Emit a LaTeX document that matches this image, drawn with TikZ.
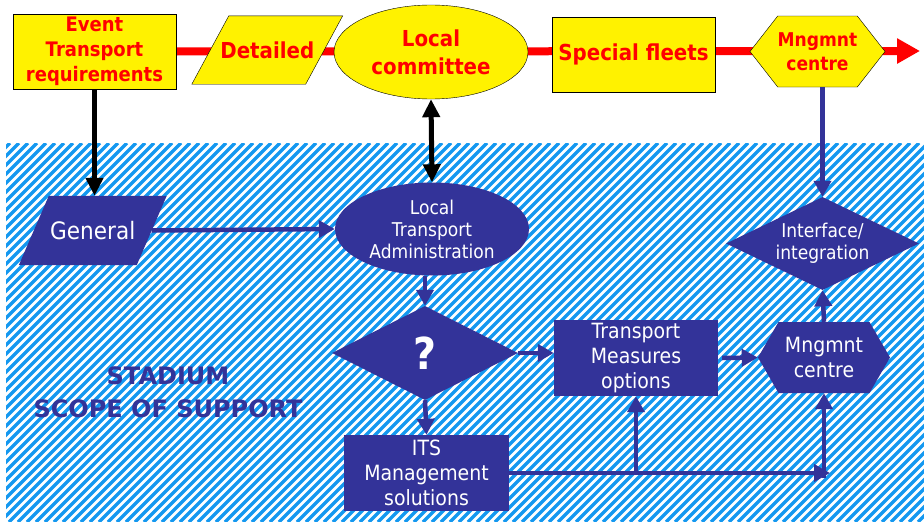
\documentclass[tikz,border=0pt]{standalone}
\usepackage{fontspec}
\setmainfont{DejaVu Sans}[FakeStretch=0.9]
\newfontfamily\heavyfont{DejaVu Sans}
\usepackage{tikz}
\usetikzlibrary{arrows.meta,shapes.geometric,shapes.symbols,positioning,backgrounds}
\definecolor{navy}{RGB}{51,51,153}
\definecolor{stripeblue}{RGB}{20,152,240}
\tikzset{
    topbox/.style={draw=black, fill=yellow, text=red, align=center, inner sep=0pt, font=\bfseries\fontsize{20}{25}\selectfont},
    topslant/.style={topbox, draw=none, fill=none},
    topoval/.style={topbox, ellipse},
    tophex/.style={topbox, signal, signal to=east and west},
    navybox/.style={fill=navy, text=white, align=center, inner sep=0pt, font=\fontsize{21}{25}\selectfont},
    navyslant/.style={navybox, fill=none},
    navyoval/.style={navybox, ellipse},
    navydiamond/.style={navybox, diamond, aspect=2},
    navyhex/.style={navybox, signal, signal to=east and west},
    redline/.style={-{Triangle[length=23pt, width=24pt]}, line width=8pt, red},
    blackarrow/.style={-{Triangle[length=18pt, width=17pt]}, line width=5pt, black},
    blackboth/.style={{Triangle[length=18pt, width=17pt]}-{Triangle[length=18pt, width=17pt]}, line width=5pt, black},
    bluearrow/.style={-{Triangle[length=16pt, width=17pt]}, line width=4.5pt, navy},
    stripe/.style={stripeblue, line width=3.3pt}
}
\begin{document}
\begin{tikzpicture}[x=1pt, y=-1pt]
    \useasboundingbox (0,0) rectangle (924,522);

    % top row
    \node[topbox, minimum width=163pt, minimum height=75pt] (ev) at (94.5,51.5) {Event\\Transport\\requirements};
    \node[topslant, minimum width=113.5pt, minimum height=68pt, font=\bfseries\fontsize{22}{26}\selectfont] (det) at (267.25,50) {Detailed};
    \node[topoval, minimum width=194pt, minimum height=94pt, font=\bfseries\fontsize{22}{28}\selectfont] (lc) at (431,52) {Local\\committee};
    \node[topbox, minimum width=163pt, minimum height=75pt, font=\bfseries\fontsize{22}{26}\selectfont] (sf) at (633.5,54.5) {Special fleets};
    \node[tophex, signal pointer angle=104, minimum width=131pt, minimum height=71pt, font=\bfseries\fontsize{19}{24}\selectfont] (mc1) at (817.5,51.5) {Mngmnt\\centre};
    \coordinate (redtip) at (920,51);

    % scope of support
    \node[navyslant, minimum width=117.5pt, minimum height=69pt, font=\fontsize{24}{28}\selectfont] (gen) at (92.75,230.5) {General};
    \node[navyoval, minimum width=194pt, minimum height=93pt, font=\fontsize{19}{22}\selectfont] (lta) at (432,229) {Local\\Transport\\Administration};
    \node[navydiamond, minimum width=186pt, minimum height=94pt, font=\bfseries\fontsize{44}{44}\selectfont] (q) at (425,353) {?};
    \node[navybox, minimum width=165pt, minimum height=76pt] (its) at (426.5,473) {ITS\\Management\\solutions};
    \node[navybox, minimum width=164pt, minimum height=76pt] (tm) at (636,358) {Transport\\Measures\\options};
    \node[navyhex, signal pointer angle=120, minimum width=132pt, minimum height=71pt] (mc2) at (824,357.5) {Mngmnt\\centre};
    \node[navydiamond, minimum width=193pt, minimum height=93pt, font=\fontsize{19}{22}\selectfont] (iface) at (822.5,243.5) {Interface/\\integration};
    \node[text=navy, align=center, font=\heavyfont\bfseries\fontsize{24}{33}\selectfont] (scope) at (168,392) {STADIUM\\SCOPE OF SUPPORT};

    \coordinate (b1) at (tm.south |- its.east);
    \coordinate (b2) at (mc2.south |- its.east);
    \coordinate (corner) at ([xshift=6pt]b2);

    \begin{scope}[on background layer]
        \begin{scope}
            \clip (6,143) rectangle (924,522);
            \foreach \k in {-44,...,104}
                \draw[stripe] (\k*9,522) -- ++(379,-379);
        \end{scope}
        \draw[redline] (ev.east) -- (redtip);
        % slanted boxes
        \filldraw[fill=yellow, draw=black] ([xshift=-18.5pt]det.south west) -- ([xshift=18.5pt]det.north west)
            -- ([xshift=18.5pt]det.north east) -- ([xshift=-18.5pt]det.south east) -- cycle;
        \fill[navy] ([xshift=-15pt]gen.south west) -- ([xshift=15pt]gen.north west)
            -- ([xshift=15pt]gen.north east) -- ([xshift=-15pt]gen.south east) -- cycle;
    \end{scope}

    \draw[blackarrow] (ev.south) -- (ev.south |- gen.north);
    \draw[blackboth] (lc.south) -- (lta.north);
    \draw[bluearrow] (iface.north |- mc1.south) -- (iface.north);
    \draw[bluearrow] (gen.east) -- (lta.west);
    \draw[bluearrow] (q.north |- lta.south) -- (q.north);
    \draw[bluearrow] (q.south) -- (its.north);
    \draw[bluearrow] (q.east) -- (q.east -| tm.west);
    \draw[bluearrow] ([xshift=4pt]tm.east) -- (mc2.west);
    \draw[bluearrow] (mc2.north) -- (iface.south);
    \draw[bluearrow] (its.east) -- (corner);
    \draw[bluearrow] (b1) -- (tm.south);
    \draw[bluearrow] ([yshift=-5pt]b2) -- (mc2.south);
\end{tikzpicture}
\end{document}
